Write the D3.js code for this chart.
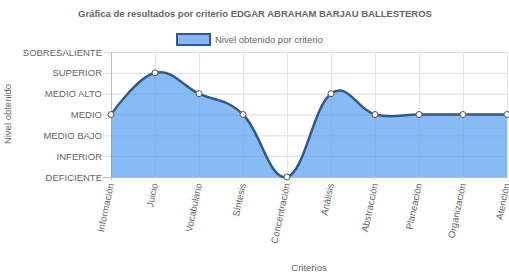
<!DOCTYPE html>
<html>
<head>
<meta charset="utf-8">
<script src="https://cdn.jsdelivr.net/npm/d3@7"></script>
<style>
  body { margin: 0; background: #fff; }
  svg { font-family: "Liberation Sans", Arial, Helvetica, sans-serif; }
</style>
</head>
<body>
<svg id="chart" width="509" height="278"></svg>
<script>
// datos del grafico
var criterios = ['Información', 'Juicio', 'Vocabulario', 'Síntesis', 'Concentración',
  'Análisis', 'Abstracción', 'Planeación', 'Organización', 'Atención'];
var niveles = ['DEFICIENTE', 'INFERIOR', 'MEDIO BAJO', 'MEDIO', 'MEDIO ALTO', 'SUPERIOR', 'SOBRESALIENTE'];
var valores = [3, 5, 4, 3, 0, 4, 3, 3, 3, 3];

var svg = d3.select('#chart');
var mLeft = 111, mRight = 507, mTop = 52, mBottom = 177;
var fs = 9.5;

var x = d3.scalePoint().domain(criterios).range([mLeft, mRight]);
var y = d3.scaleLinear().domain([0, niveles.length - 1]).range([mBottom, mTop]);

// titulo
svg.append('text')
  .attr('x', 255).attr('y', 17)
  .attr('text-anchor', 'middle')
  .attr('font-size', fs).attr('font-weight', 'bold')
  .attr('fill', '#666')
  .text('Gráfica de resultados por criterio EDGAR ABRAHAM BARJAU BALLESTEROS');

// leyenda
svg.append('rect')
  .attr('x', 177).attr('y', 34).attr('width', 33).attr('height', 11)
  .attr('fill', '#87b8f5').attr('stroke', '#2d5b91').attr('stroke-width', 2);
svg.append('text')
  .attr('x', 215).attr('y', 43)
  .attr('font-size', fs).attr('fill', '#666')
  .text('Nivel obtenido por criterio');

// rejilla horizontal
svg.append('g').selectAll('line')
  .data(d3.range(niveles.length))
  .enter().append('line')
  .attr('x1', mLeft - 8).attr('x2', mRight)
  .attr('y1', function (d) { return y(d) + 0.5; })
  .attr('y2', function (d) { return y(d) + 0.5; })
  .attr('stroke', function (d) { return d == 0 ? '#bbb' : '#ddd'; });

// rejilla vertical
svg.append('g').selectAll('line')
  .data(criterios)
  .enter().append('line')
  .attr('x1', function (d) { return x(d) + 0.5; })
  .attr('x2', function (d) { return x(d) + 0.5; })
  .attr('y1', mTop).attr('y2', mBottom + 3)
  .attr('stroke', function (d, i) { return i == 0 ? '#bbb' : '#e6e6e6'; });

// etiquetas eje y
svg.append('g').selectAll('text')
  .data(niveles)
  .enter().append('text')
  .attr('x', mLeft - 9)
  .attr('y', function (d, i) { return y(i) + 3.5; })
  .attr('text-anchor', 'end')
  .attr('font-size', fs).attr('fill', '#666')
  .text(function (d) { return d; });

// etiquetas eje x
svg.append('g').selectAll('text')
  .data(criterios)
  .enter().append('text')
  .attr('transform', function (d) { return 'translate(' + (x(d) + 3) + ',' + (mBottom + 7) + ') rotate(-78)'; })
  .attr('text-anchor', 'end')
  .attr('font-size', fs).attr('fill', '#666')
  .text(function (d) { return d; });

// titulos de ejes
svg.append('text')
  .attr('transform', 'translate(11,114) rotate(-90)')
  .attr('text-anchor', 'middle')
  .attr('font-size', fs).attr('fill', '#666')
  .text('Nivel obtenido');
svg.append('text')
  .attr('x', 309).attr('y', 271)
  .attr('text-anchor', 'middle')
  .attr('font-size', fs).attr('fill', '#666')
  .text('Criterios');

// area y linea
var curve = d3.curveCardinal.tension(-0.2);
var area = d3.area()
  .x(function (d, i) { return x(criterios[i]); })
  .y0(mBottom)
  .y1(function (d) { return y(d); })
  .curve(curve);
var line = d3.line()
  .x(function (d, i) { return x(criterios[i]); })
  .y(function (d) { return y(d); })
  .curve(curve);

svg.append('defs').append('clipPath').attr('id', 'clip')
  .append('rect').attr('x', mLeft).attr('y', mTop - 5).attr('width', mRight - mLeft + 2).attr('height', mBottom - mTop + 6);

svg.append('path')
  .datum(valores)
  .attr('d', area)
  .attr('clip-path', 'url(#clip)')
  .attr('fill', 'rgba(90,160,240,0.72)');

svg.append('path')
  .datum(valores)
  .attr('d', line)
  .attr('fill', 'none')
  .attr('stroke', '#2d5b91')
  .attr('stroke-width', 2.5);

svg.append('g').selectAll('circle')
  .data(valores)
  .enter().append('circle')
  .attr('cx', function (d, i) { return x(criterios[i]); })
  .attr('cy', function (d) { return y(d); })
  .attr('r', 3)
  .attr('fill', '#fff')
  .attr('stroke', '#555')
  .attr('stroke-width', 1);
</script>
</body>
</html>
